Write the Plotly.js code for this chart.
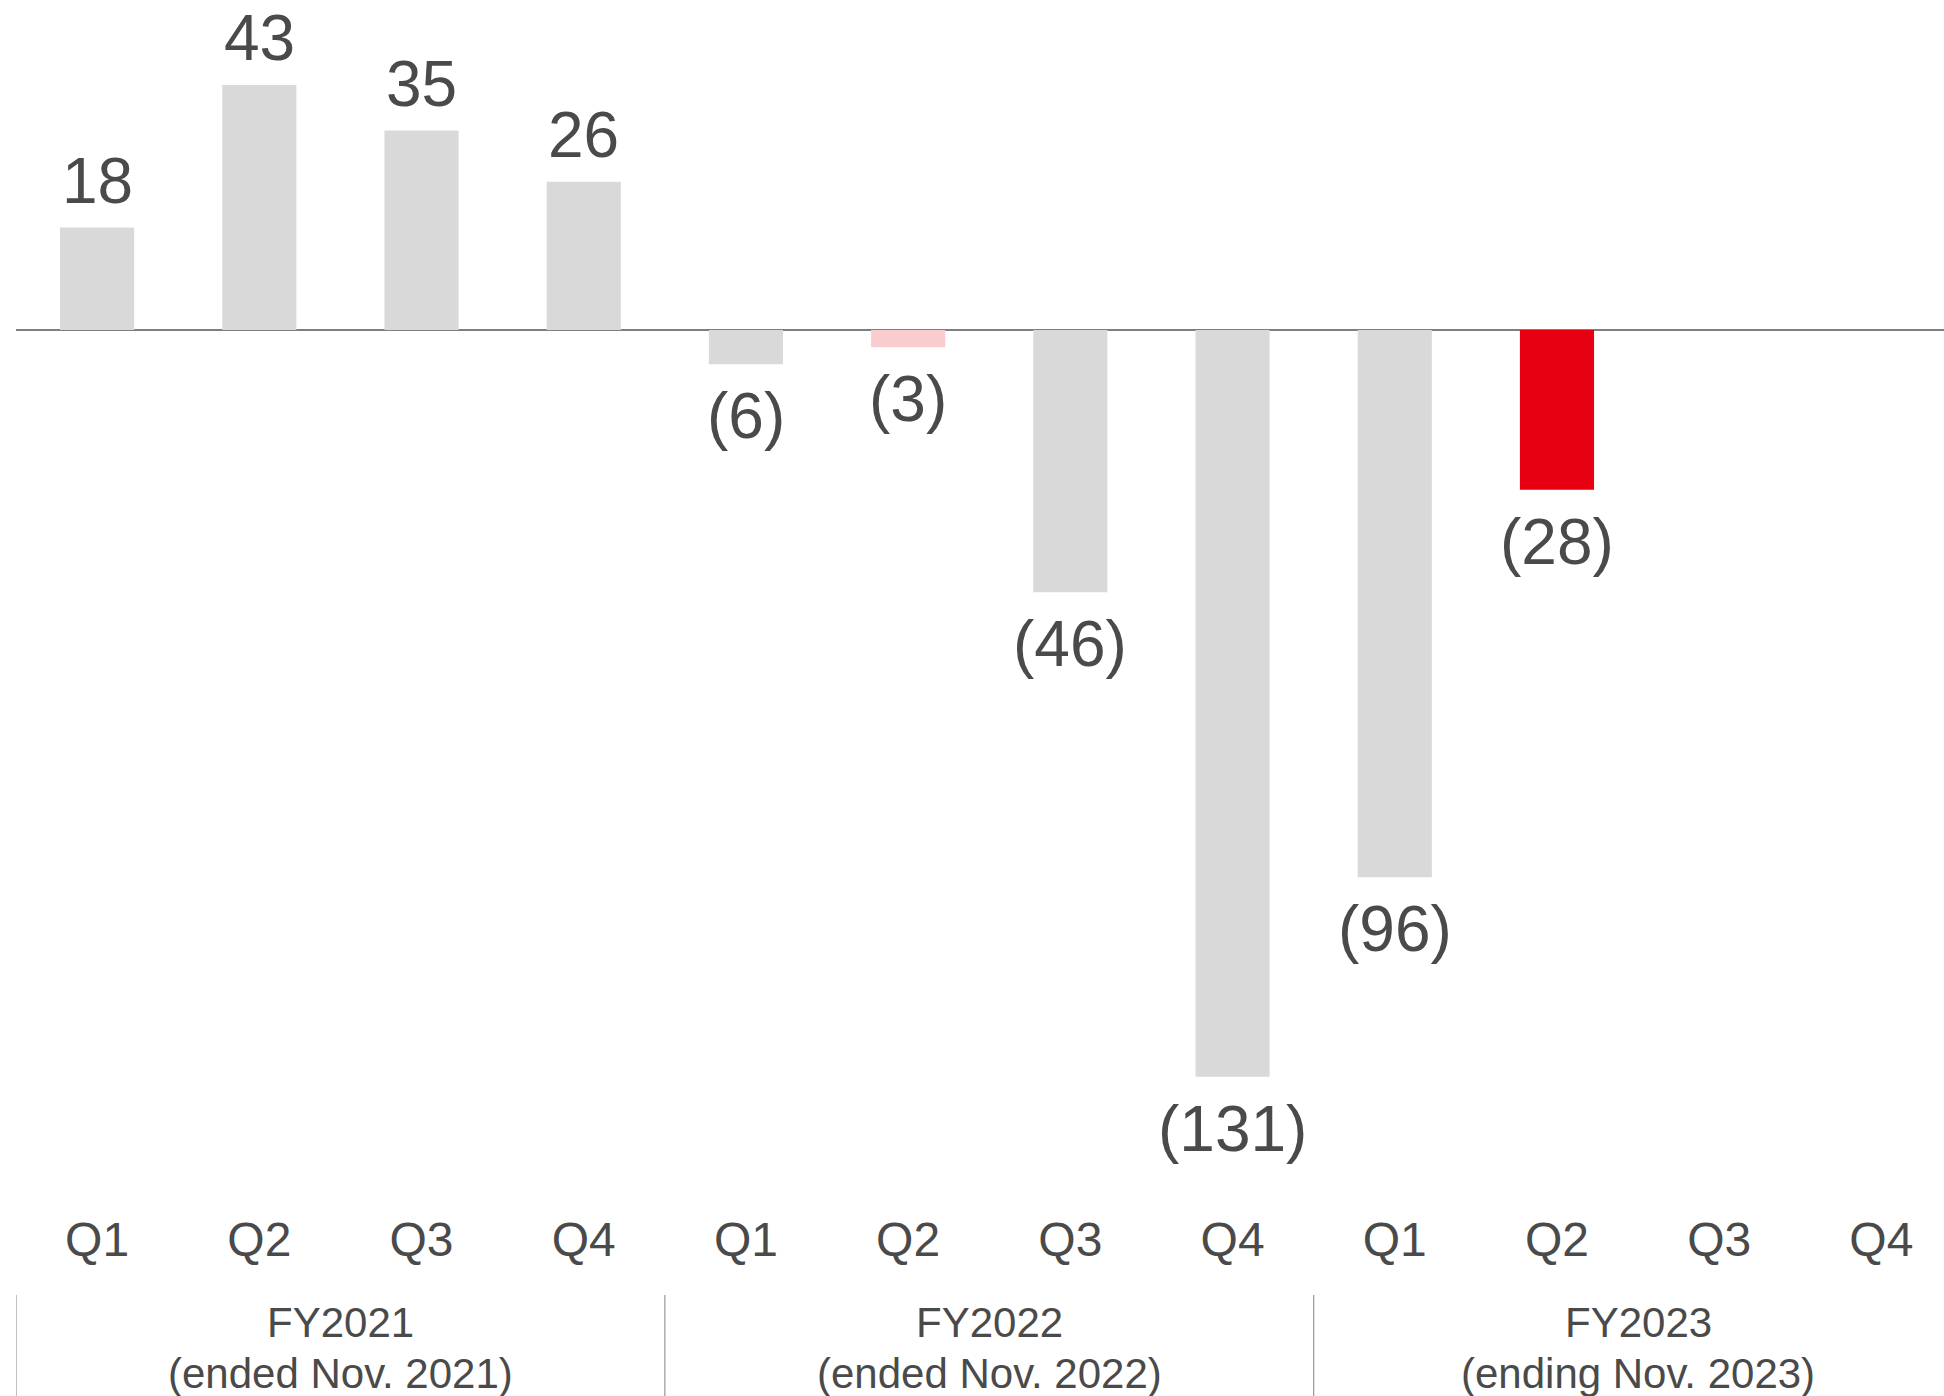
<!DOCTYPE html>
<html>
<head>
<meta charset="utf-8">
<script src="https://cdn.plot.ly/plotly-3.0.1.min.js"></script>
<style>
  html, body { margin: 0; padding: 0; background: #ffffff; }
  #chart { width: 1944px; height: 1396px; }
</style>
</head>
<body>
<div id="chart"></div>
<script>
// Quarterly results, three fiscal years (values in parentheses are losses)
const quarters = ['Q1', 'Q2', 'Q3', 'Q4', 'Q1', 'Q2', 'Q3', 'Q4', 'Q1', 'Q2', 'Q3', 'Q4'];
const values = [18, 43, 35, 26, -6, -3, -46, -131, -96, -28, null, null];
const fiscalYears = ['FY2021', 'FY2022', 'FY2023'];
const fiscalNotes = ['(ended Nov. 2021)', '(ended Nov. 2022)', '(ending Nov. 2023)'];

const FONT = 'Liberation Sans, Arial, sans-serif';
const TEXT = '#4a4a4a';
const GRAY = '#d9d9d9';
const PINK = '#f9cdd0';
const RED = '#e60012';

// latest quarter in red, same quarter a year earlier in light red
const latest = values.reduce((acc, v, i) => (v !== null ? i : acc), -1);
const barColors = values.map((v, i) =>
  i === latest ? RED : i === latest - 4 ? PINK : GRAY);

const xIdx = quarters.map((q, i) => i);

const fmt = v => (v < 0 ? '(' + Math.abs(v) + ')' : String(v));

const bars = {
  type: 'bar',
  x: xIdx,
  y: values,
  width: 0.457,
  marker: { color: barColors, line: { width: 0 } },
  hoverinfo: 'skip'
};

// value labels above positive bars, below negative bars
const valueLabels = [];
values.forEach((v, i) => {
  if (v === null) return;
  valueLabels.push({
    x: i, y: v, xref: 'x', yref: 'y',
    text: fmt(v),
    showarrow: false,
    xanchor: 'center',
    yanchor: v >= 0 ? 'bottom' : 'top',
    yshift: v >= 0 ? 8.5 : -14,
    font: { family: FONT, size: 64, color: TEXT }
  });
});

// fiscal-year group labels under the quarter ticks (two lines each)
const yearLabels = [];
fiscalYears.forEach((fy, k) => {
  yearLabels.push({
    x: 4 * k + 1.5, y: -0.0992, xref: 'x', yref: 'paper',
    text: fy,
    showarrow: false,
    xanchor: 'center', yanchor: 'top',
    font: { family: FONT, size: 42, color: TEXT }
  });
  yearLabels.push({
    x: 4 * k + 1.5, y: -0.1423, xref: 'x', yref: 'paper',
    text: fiscalNotes[k],
    showarrow: false,
    xanchor: 'center', yanchor: 'top',
    font: { family: FONT, size: 42, color: TEXT }
  });
});

// separators between fiscal-year groups
const separators = fiscalYears.map((fy, k) => ({
  type: 'line', xref: 'x', yref: 'paper',
  x0: 4 * k - 0.5, x1: 4 * k - 0.5,
  y0: -0.0975, y1: -0.2,
  line: { color: '#a0a0a0', width: 1.3 }
}));

const layout = {
  width: 1944,
  height: 1396,
  margin: { l: 16, r: 0, t: 0, b: 216, pad: 0 },
  paper_bgcolor: '#ffffff',
  plot_bgcolor: '#ffffff',
  showlegend: false,
  bargap: 0.54,
  xaxis: {
    range: [-0.5, 11.386],
    tickvals: xIdx,
    ticktext: quarters,
    ticks: '',
    showgrid: false,
    zeroline: false,
    showline: false,
    ticklabelstandoff: 27,
    tickfont: { family: FONT, size: 48, color: TEXT }
  },
  yaxis: {
    range: [-149.1, 57.9],
    showgrid: false,
    showline: false,
    showticklabels: false,
    ticks: '',
    zeroline: true,
    zerolinecolor: '#7f7f7f',
    zerolinewidth: 2
  },
  annotations: valueLabels.concat(yearLabels),
  shapes: separators
};

Plotly.newPlot('chart', [bars], layout, { staticPlot: true, displayModeBar: false });
</script>
</body>
</html>
